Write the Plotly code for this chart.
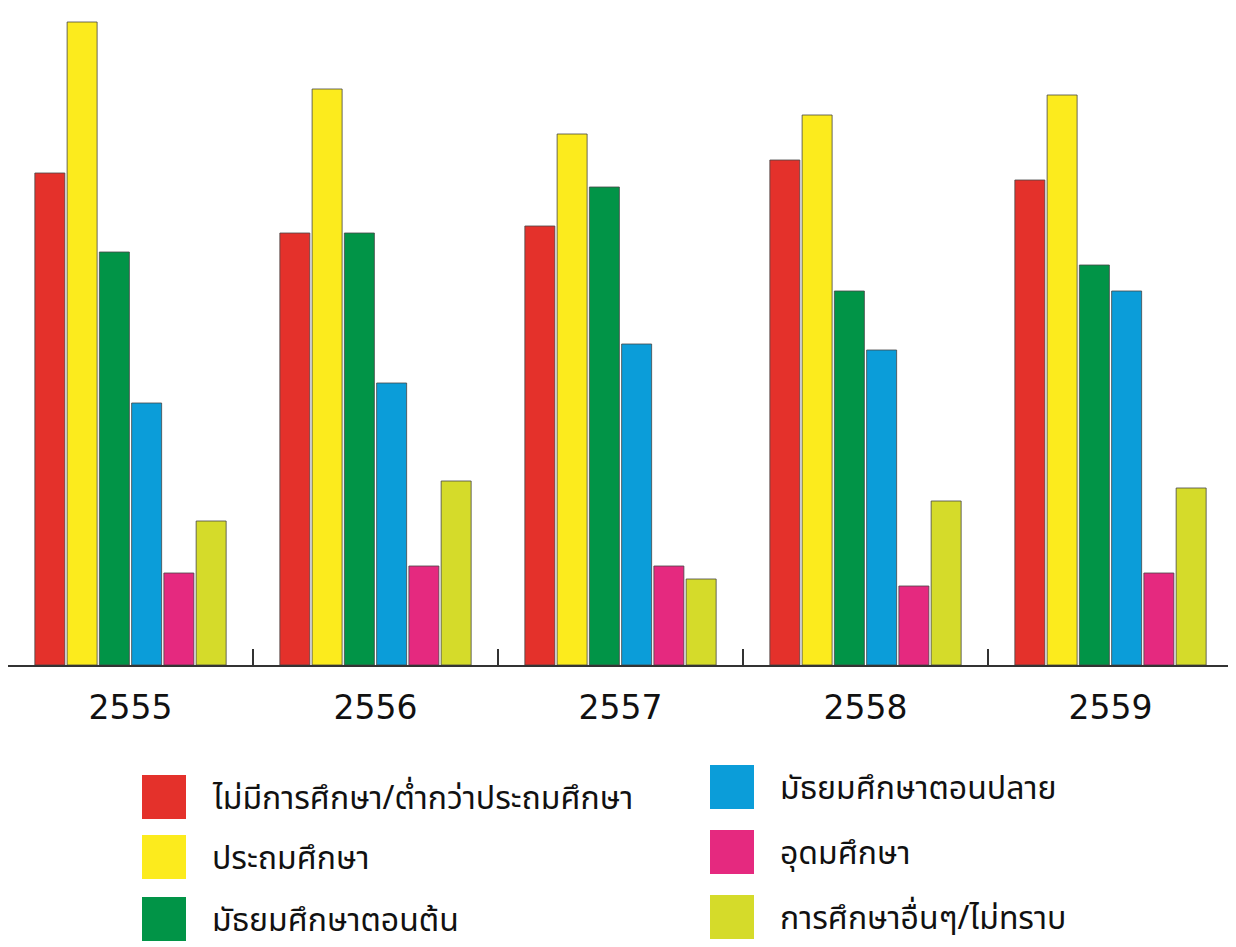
import plotly.graph_objects as go

years = ["2555", "2556", "2557", "2558", "2559"]
series_names = [
    "ไม่มีการศึกษา/ต่ำกว่าประถมศึกษา",
    "ประถมศึกษา",
    "มัธยมศึกษาตอนต้น",
    "มัธยมศึกษาตอนปลาย",
    "อุดมศึกษา",
    "การศึกษาอื่นๆ/ไม่ทราบ",
]
colors = ["#E4312B", "#FCEB1D", "#019447", "#0B9DD9", "#E5297F", "#D5DB2A"]

no_edu = [492, 432, 439, 505, 485]
primary = [643, 576, 531, 550, 570]
lower_sec = [413, 432, 478, 374, 400]
upper_sec = [262, 282, 321, 315, 374]
higher = [92, 99, 99, 79, 92]
other = [144, 184, 86, 164, 177]
values = [no_edu, primary, lower_sec, upper_sec, higher, other]

# page body has an 8px default margin
OFF = 8
W, H = 1236 - OFF, 947 - OFF
L, R, T, B = 0, 3, 2, 282

fig = go.Figure()
for name, col, vals in zip(series_names, colors, values):
    fig.add_trace(go.Bar(
        x=years, y=vals, name=name, marker_color=col,
        marker_line_color="rgba(70,70,70,0.8)", marker_line_width=1,
        showlegend=False,
    ))

def px_x(p):
    return (p - OFF - L) / (W - L - R)

def px_y(p):
    return (H - B - (p - OFF)) / (H - B - T)

shapes = []
annotations = []
legend_pos = [
    (142, 775), (142, 835), (142, 897),
    (710, 765), (710, 830), (710, 895),
]
thai_font = "Noto Sans Thai, Noto Sans Thai Looped, Noto Sans, DejaVu Sans, sans-serif"
for (sx, sy), name, col in zip(legend_pos, series_names, colors):
    shapes.append(dict(
        type="rect", xref="paper", yref="paper",
        x0=px_x(sx), x1=px_x(sx + 44), y0=px_y(sy + 44), y1=px_y(sy),
        fillcolor=col, line=dict(width=0),
    ))
    annotations.append(dict(
        xref="paper", yref="paper", x=px_x(sx + 68), y=px_y(sy + 24),
        xanchor="left", yanchor="middle", text=name, showarrow=False,
        font=dict(size=32, color="#111", family=thai_font),
    ))

fig.update_layout(
    width=W, height=H,
    margin=dict(l=L, r=R, t=T, b=B),
    paper_bgcolor="white", plot_bgcolor="white",
    barmode="group", bargap=0.21, bargroupgap=0.07,
    shapes=shapes, annotations=annotations,
    xaxis=dict(
        showline=True, linecolor="#333", linewidth=2,
        ticks="inside", tickson="boundaries", ticklen=16, tickwidth=2, tickcolor="#333",
        tickfont=dict(size=33, color="#111", family="DejaVu Sans, sans-serif"),
        ticklabelstandoff=12,
        showgrid=False,
    ),
    yaxis=dict(
        range=[0, 655], showline=True, linecolor="#333", linewidth=2,
        showticklabels=False, ticks="", showgrid=False, zeroline=False,
    ),
)

fig.write_html("out.html")
